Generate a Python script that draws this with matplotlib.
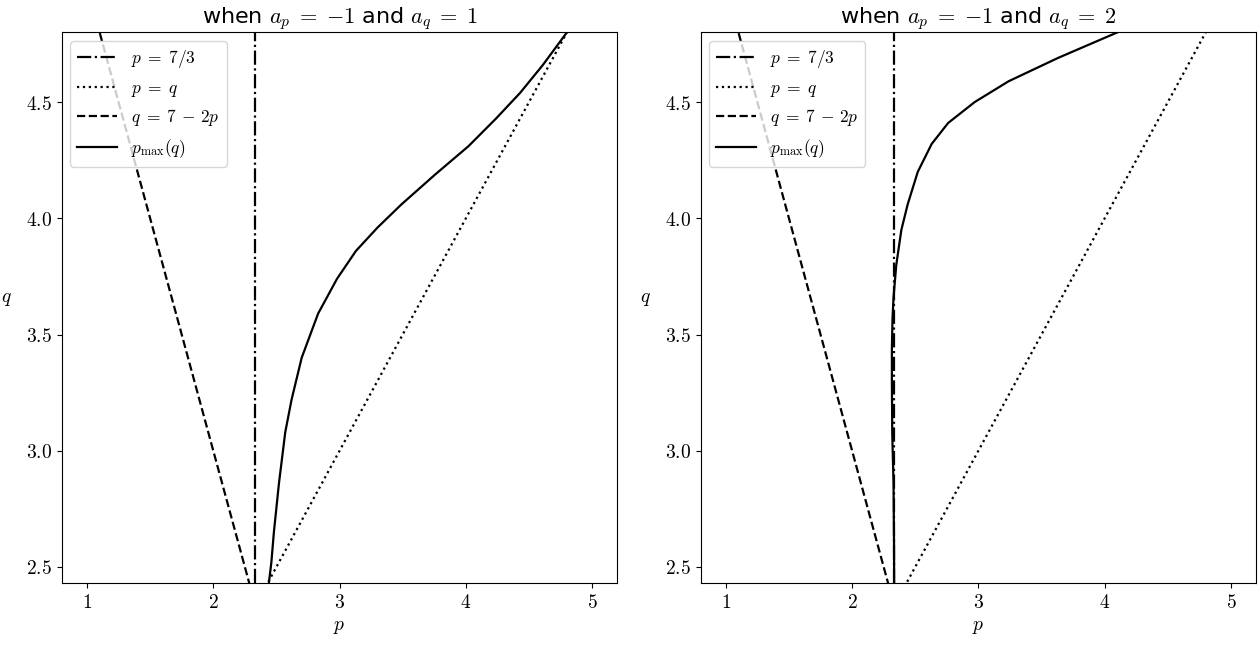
import numpy as np
import matplotlib
matplotlib.use("Agg")
import matplotlib.pyplot as plt
from matplotlib.ticker import FuncFormatter, MultipleLocator

plt.rcParams['mathtext.fontset'] = 'cm'

# p_max(q) curves
q_left = [2.43, 2.52, 2.65, 2.86, 3.08, 3.22, 3.40, 3.59, 3.74, 3.86, 3.96, 4.06,
          4.19, 4.31, 4.43, 4.54, 4.66, 4.8]
p_left = [2.44, 2.46, 2.48, 2.52, 2.57, 2.62, 2.70, 2.83, 2.98, 3.13, 3.30, 3.49,
          3.76, 4.02, 4.24, 4.43, 4.61, 4.8]

q_right = [2.43, 2.6, 2.86, 3.07, 3.3, 3.44, 3.57, 3.66, 3.80, 3.95, 4.06, 4.20,
           4.32, 4.41, 4.50, 4.59, 4.69, 4.80]
p_right = [2.333, 2.332, 2.328, 2.318, 2.315, 2.315, 2.32, 2.328, 2.35, 2.39, 2.44,
           2.52, 2.63, 2.76, 2.97, 3.24, 3.63, 4.10]

a_q_values = [1, 2]
p_ref = np.array([1.0, 5.0])
Q_MIN, Q_MAX = 2.43, 4.8

fig = plt.figure(figsize=(12.6, 6.48), dpi=100)
ax1 = fig.add_axes([0.049, 0.100, 0.441, 0.850])
ax2 = fig.add_axes([0.556, 0.100, 0.441, 0.850])

tick_fmt_x = FuncFormatter(lambda v, pos: f"${v:.0f}$")
tick_fmt_y = FuncFormatter(lambda v, pos: f"${v:.1f}$")

for ax, a_q, pc, qc in [(ax1, a_q_values[0], p_left, q_left),
                        (ax2, a_q_values[1], p_right, q_right)]:
    ax.axvline(7 / 3, color='k', ls='-.', lw=1.6, label=r'$p\;=\;7/3$')
    ax.plot(p_ref, p_ref, 'k:', lw=1.6, label=r'$p\;=\;q$')
    ax.plot(p_ref, 7 - 2 * p_ref, 'k--', lw=1.6, label=r'$q\;=\;7\,-\,2p$')
    ax.plot(pc, qc, 'k-', lw=1.6, label=r'$p_{\max}(q)$')

    ax.set_xlim(0.8, 5.2)
    ax.set_ylim(Q_MIN, Q_MAX)
    ax.xaxis.set_major_locator(MultipleLocator(1))
    ax.yaxis.set_major_locator(MultipleLocator(0.5))
    ax.xaxis.set_major_formatter(tick_fmt_x)
    ax.yaxis.set_major_formatter(tick_fmt_y)
    ax.tick_params(labelsize=14)
    ax.set_xlabel(r'$p$', fontsize=14)
    ax.set_ylabel(r'$q$', fontsize=14, rotation=0, labelpad=14)
    ax.set_title(rf'when $a_p\;=\;{{-1}}$ and $a_q\;=\;{a_q}$', fontsize=16, pad=4)
    ax.legend(loc='upper left', fontsize=12.5, handlelength=2.3, handletextpad=0.8)

fig.savefig("out.png", dpi=100)
